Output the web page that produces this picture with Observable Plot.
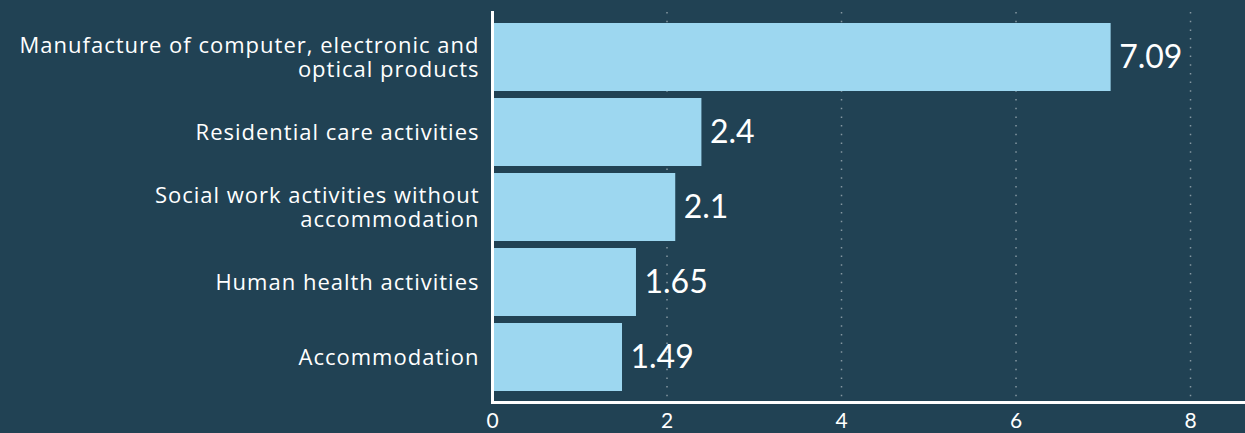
<!DOCTYPE html>
<html>
<head>
<meta charset="utf-8">
<script src="https://cdn.jsdelivr.net/npm/d3@7"></script>
<script src="https://cdn.jsdelivr.net/npm/@observablehq/plot@0.6"></script>
<style>
  html, body { margin: 0; padding: 0; background: #214254; }
  #chart svg { display: block; }
  #chart g[aria-label="y-axis tick label"] text { letter-spacing: 1px; }
</style>
</head>
<body>
<div id="chart"></div>
<script>
const categories = [
  "Manufacture of computer, electronic and optical products",
  "Residential care activities",
  "Social work activities without accommodation",
  "Human health activities",
  "Accommodation"
];
const categoryLabels = [
  "Manufacture of computer, electronic and\noptical products",
  "Residential care activities",
  "Social work activities without\naccommodation",
  "Human health activities",
  "Accommodation"
];
const values = [7.09, 2.4, 2.1, 1.65, 1.49];
const valueLabels = ["7.09", "2.4", "2.1", "1.65", "1.49"];
const xTicks = [0, 2, 4, 6, 8];

const data = categories.map((c, i) => ({category: c, value: values[i], label: valueLabels[i]}));
const labelOf = new Map(categories.map((c, i) => [c, categoryLabels[i]]));

const chart = Plot.plot({
  width: 1245,
  height: 433,
  marginLeft: 492,
  marginRight: 0,
  marginTop: 12,
  marginBottom: 31,
  style: {background: "#214254", color: "#ffffff", fontFamily: "'Open Sans', sans-serif"},
  x: {domain: [0, 8.63]},
  y: {domain: categories, paddingInner: 0.1, paddingOuter: 0.13},
  marks: [
    Plot.gridX(xTicks, {stroke: "#ffffff", strokeOpacity: 0.45, strokeWidth: 1.5, strokeDasharray: "1.5,7.2"}),
    Plot.barX(data, {x: "value", y: "category", fill: "#9dd7f0"}),
    Plot.text(data, {x: "value", y: "category", text: "label", textAnchor: "start", dx: 8, fill: "#ffffff", fontSize: 32, fontFamily: "Lato, sans-serif"}),
    Plot.axisY({tickSize: 0, tickPadding: 13, fontSize: 22, tickFormat: d => labelOf.get(d), lineHeight: 1.1, label: null, fill: "#ffffff"}),
    Plot.axisX(xTicks, {tickSize: 0, tickPadding: 11, fontSize: 21, label: null, fill: "#ffffff", fontFamily: "Lato, sans-serif"}),
    Plot.frame({anchor: "left", stroke: "#ffffff", strokeWidth: 3}),
    Plot.frame({anchor: "bottom", stroke: "#ffffff", strokeWidth: 3})
  ]
});
document.getElementById("chart").appendChild(chart);
</script>
</body>
</html>
